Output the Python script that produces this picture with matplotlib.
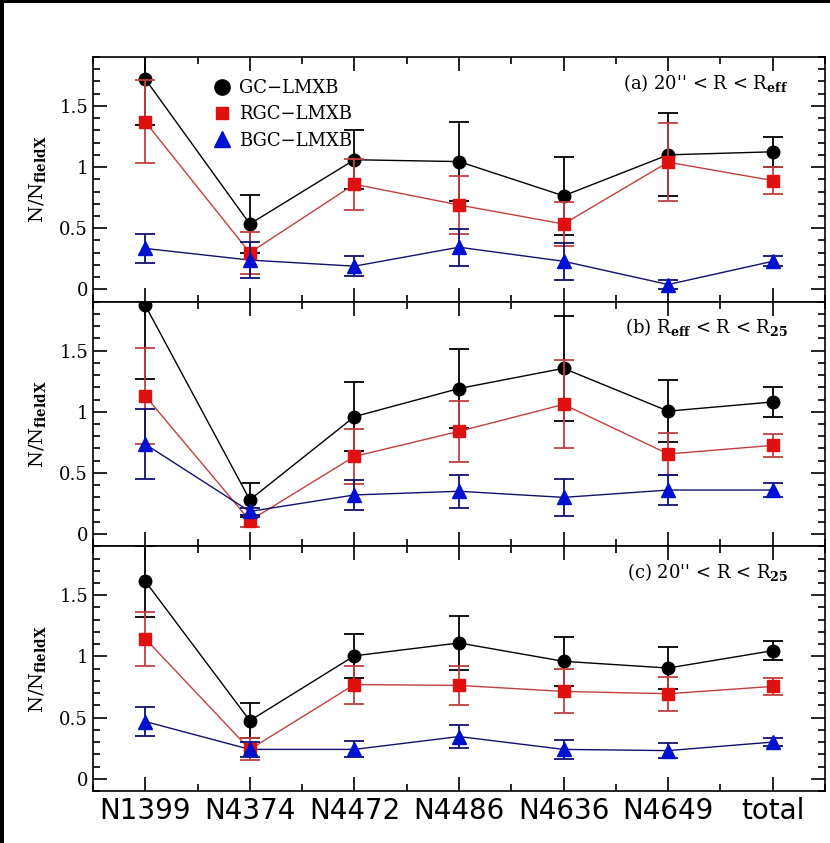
import numpy as np
import matplotlib
matplotlib.use("Agg")
from matplotlib import pyplot as plt
from matplotlib.lines import Line2D
from matplotlib.patches import Rectangle
from matplotlib.ticker import MultipleLocator

galaxies = ["N1399", "N4374", "N4472", "N4486", "N4636", "N4649", "total"]

# (a) 20" < R < R_eff
gc_a = [1.72, 0.535, 1.06, 1.045, 0.765, 1.10, 1.125]
gc_a_err = [0.38, 0.24, 0.24, 0.32, 0.32, 0.34, 0.125]
rgc_a = [1.37, 0.30, 0.86, 0.69, 0.535, 1.04, 0.89]
rgc_a_err = [0.34, 0.17, 0.21, 0.24, 0.18, 0.32, 0.11]
bgc_a = [0.335, 0.24, 0.19, 0.345, 0.23, 0.04, 0.23]
bgc_a_err = [0.12, 0.15, 0.08, 0.15, 0.15, 0.04, 0.04]

# (b) R_eff < R < R_25
gc_b = [1.87, 0.28, 0.96, 1.19, 1.355, 1.005, 1.08]
gc_b_err = [0.60, 0.14, 0.28, 0.32, 0.43, 0.255, 0.125]
rgc_b = [1.13, 0.11, 0.635, 0.84, 1.06, 0.655, 0.725]
rgc_b_err = [0.39, 0.05, 0.225, 0.25, 0.36, 0.17, 0.095]
bgc_b = [0.735, 0.185, 0.32, 0.35, 0.30, 0.36, 0.36]
bgc_b_err = [0.285, 0.03, 0.125, 0.135, 0.15, 0.12, 0.06]

# (c) 20" < R < R_25
gc_c = [1.615, 0.475, 1.005, 1.11, 0.96, 0.905, 1.047]
gc_c_err = [0.29, 0.145, 0.18, 0.22, 0.20, 0.175, 0.08]
rgc_c = [1.145, 0.24, 0.77, 0.763, 0.714, 0.695, 0.755]
rgc_c_err = [0.22, 0.09, 0.155, 0.16, 0.18, 0.14, 0.07]
bgc_c = [0.468, 0.24, 0.24, 0.345, 0.24, 0.23, 0.30]
bgc_c_err = [0.115, 0.06, 0.065, 0.095, 0.08, 0.06, 0.03]

panel_titles = [r"(a) 20'' < R < R$_{\bf eff}$",
                r"(b) R$_{\bf eff}$ < R < R$_{\bf 25}$",
                r"(c) 20'' < R < R$_{\bf 25}$"]

panels = [
    (gc_a, gc_a_err, rgc_a, rgc_a_err, bgc_a, bgc_a_err),
    (gc_b, gc_b_err, rgc_b, rgc_b_err, bgc_b, bgc_b_err),
    (gc_c, gc_c_err, rgc_c, rgc_c_err, bgc_c, bgc_c_err),
]

plt.rcParams['font.family'] = ['DejaVu Serif']
plt.rcParams['mathtext.fontset'] = 'dejavuserif'

fig = plt.figure(figsize=(8.3, 8.43), dpi=100)
fig.patch.set_facecolor('black')
fig.patches.append(Rectangle((0.005, 0), 0.995, 0.9965, transform=fig.transFigure,
                             facecolor='white', edgecolor='none', zorder=-10))
axes = fig.subplots(3, 1, sharex=True, gridspec_kw={'hspace': 0})
fig.subplots_adjust(left=0.112, right=0.994, top=0.9324, bottom=0.0617)

x = np.arange(len(galaxies))
styles = [
    ('black', 'black', 'o', 9),
    ('#e01010', '#c04040', 's', 8),
    ('#0010d0', '#101070', '^', 10),
]

for i, ax in enumerate(axes):
    data = panels[i]
    for k, (mcol, lcol, mk, ms) in enumerate(styles):
        y = data[2 * k]
        e = data[2 * k + 1]
        ax.plot(x, y, color=lcol, lw=1.0, zorder=2 + k)
        ax.errorbar(x, y, yerr=e, fmt=mk, color=mcol, ms=ms, ecolor=lcol,
                    elinewidth=1.3, capsize=7, capthick=1.3, zorder=3 + k)
    ax.set_xlim(-0.5, 6.5)
    ax.set_ylim(-0.1, 1.9)
    ax.set_yticks([0, 0.5, 1, 1.5])
    ax.set_yticklabels(["0", "0.5", "1", "1.5"])
    ax.yaxis.set_minor_locator(MultipleLocator(0.1))
    ax.xaxis.set_minor_locator(MultipleLocator(0.5))
    ax.tick_params(which='both', direction='in', top=True, right=True, width=1.2)
    ax.tick_params(which='major', length=10, labelsize=13)
    ax.tick_params(which='minor', length=5)
    ax.set_ylabel(r"N/N$_{\bf fieldX}$", fontsize=14, labelpad=8)
    ax.text(0.95, 0.895, panel_titles[i], transform=ax.transAxes,
            ha='right', va='center', fontsize=13)
    for s in ax.spines.values():
        s.set_linewidth(1.2)

axes[-1].set_xticks(x)
axes[-1].set_xticklabels(galaxies, family='DejaVu Sans', fontsize=20)
axes[-1].tick_params(axis='x', which='major', pad=4)

handles = [Line2D([], [], marker='o', ls='none', color='black', ms=11),
           Line2D([], [], marker='s', ls='none', color='#e01010', ms=9),
           Line2D([], [], marker='^', ls='none', color='#0010d0', ms=11)]
axes[0].legend(handles, ["GC\u2212LMXB", "RGC\u2212LMXB", "BGC\u2212LMXB"],
               loc='upper left', bbox_to_anchor=(0.135, 0.975), frameon=False,
               fontsize=13, handletextpad=0.2, labelspacing=0.45, handlelength=1.5)

plt.savefig("out.png", dpi=100)
